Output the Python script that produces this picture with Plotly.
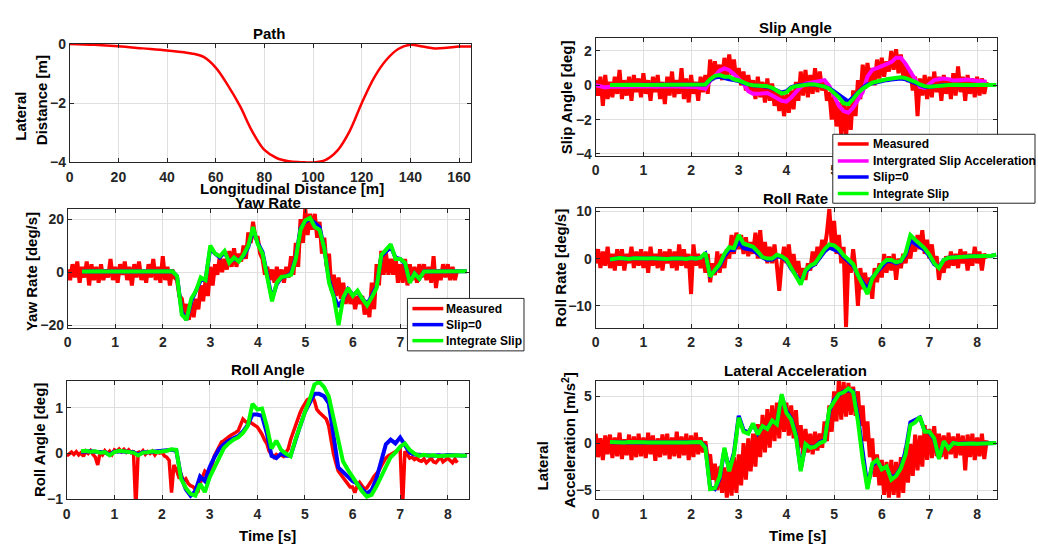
import numpy as np
import plotly.graph_objects as go

W, H = 1038, 557
FONT = "Liberation Sans, Arial, Helvetica, sans-serif"
AX = "#262626"
GRID = "#dfdfdf"
RED, MAG, BLUE, GREEN = "#ff0000", "#ff00ff", "#0000ff", "#00ff00"

# ---------------------------------------------------------------- time bases
t_meas = np.round(np.arange(0, 8.2 + 1e-9, 0.05), 2)    # measured signals, 165 samples
t_model = np.round(np.arange(0.3, 8.4 + 1e-9, 0.1), 2)  # model estimates, 82 samples
t_accel = np.round(np.arange(0, 8.2 + 1e-9, 0.1), 2)    # integrated slip acceleration, 83 samples

# ---------------------------------------------------------------- path
path_x = [0, 10, 20, 30, 40, 50, 55, 60, 65, 70, 75, 80, 85, 90, 95, 100, 105, 110,
          115, 120, 125, 130, 135, 140, 145, 150, 155, 160, 165]
path_y = [0.0, -0.03, -0.08, -0.15, -0.22, -0.32, -0.44, -0.8, -1.4, -2.1, -2.95, -3.58,
          -3.85, -3.96, -3.99, -4.0, -3.92, -3.6, -2.95, -2.0, -1.15, -0.55, -0.17, -0.03,
          -0.09, -0.15, -0.13, -0.09, -0.09]

# ---------------------------------------------------------------- slip angle [deg]
slip_meas = [
    0.3, -0.6, 0.5, -1.2, 0.6, -0.8, 0.2, -0.7, 0.5, -0.5,
    0.9, -0.8, 0.3, -0.6, 0.5, -0.9, 0.6, -0.4, 0.4, -0.7,
    0.7, -0.5, 0.3, -0.9, 0.5, -0.4, 0.6, -0.8, 0.2, -1.1,
    0.5, -0.6, 0.8, -0.7, 0.3, -0.5, 1.0, -0.8, 0.4, -1.0,
    0.6, -0.5, 0.2, -0.9, 0.5, -0.4, 0.6, -0.5, 1.5, 0.3,
    1.4, 0.4, 1.2, 0.3, 1.6, 0.5, 1.8, 0.6, 1.5, 0.2,
    1.0, 0.0, 0.8, -0.3, 0.6, -0.4, 0.3, -0.8, 0.5, -0.7,
    0.2, -1.0, 0.4, -0.9, 0.1, -1.2, -0.3, -1.5, -0.4, -1.8,
    -0.5, -1.6, -0.3, -1.4, 0.2, -0.9, 0.8, -0.6, 0.9, -0.7,
    0.6, -0.5, 1.0, -0.4, 0.8, -0.3, 0.3, -0.9, -0.4, -2.0,
    -0.6, -2.4, -1.0, -2.9, -0.8, -3.0, -1.2, -2.6, -0.3, -1.8,
    0.3, -0.8, 1.2, -0.2, 1.3, 0.2, 1.0, 0.0, 1.5, 0.4,
    1.6, 0.5, 1.4, 0.8, 2.0, 0.9, 2.1, 0.7, 1.8, 0.5,
    1.2, 0.2, 0.8, -0.3, 0.5, -1.8, 0.4, -0.6, 0.6, -0.8,
    0.5, -0.7, 0.8, -0.4, 0.5, -0.9, 0.6, -0.5, 0.4, -0.8,
    0.7, -0.6, 1.1, -0.4, 0.5, -0.9, 0.6, -0.5, 0.4, -0.7,
    0.5, -0.6, 0.4, -0.5, 0.2,
]
slip_accel = [
    0.0, -0.05, -0.12, -0.08, -0.05, -0.07, -0.08, -0.06, -0.08, -0.07,
    -0.06, -0.08, -0.07, -0.08, -0.06, -0.07, -0.08, -0.06, -0.07, -0.08,
    -0.07, -0.1, -0.15, -0.2, 0.25, 0.55, 0.85, 0.98, 0.88, 0.65,
    0.35, 0.1, -0.35, -0.5, -0.5, -0.48, -0.45, -0.6, -0.78, -0.9,
    -0.95, -0.72, -0.4, -0.1, 0.1, 0.15, 0.22, 0.3, 0.3, -0.05,
    -0.6, -1.2, -1.5, -1.6, -1.3, -0.9, -0.4, 0.5, 0.9, 1.0,
    1.1, 1.2, 1.35, 1.6, 1.6, 1.25, 0.8, 0.35, -0.1, -0.15,
    0.1, 0.3, 0.35, 0.4, 0.35, 0.28, 0.3, 0.32, 0.33, 0.3,
    0.27, 0.23, 0.2,
]
slip_zero = [
    0.02, 0.02, 0.01, 0.02, 0.02, 0.01, 0.02, 0.01, 0.02, 0.02,
    0.01, 0.02, 0.01, 0.02, 0.01, 0.01, 0.02, 0.01, 0.02, 0.01,
    0.05, 0.3, 0.45, 0.5, 0.4, 0.35, 0.3, 0.25, 0.12, 0.03,
    -0.02, -0.03, -0.05, -0.08, -0.18, -0.3, -0.42, -0.35, -0.12, -0.03,
    0.02, 0.05, 0.05, 0.03, -0.02, -0.08, -0.18, -0.35, -0.55, -0.8,
    -0.95, -0.7, -0.4, -0.15, 0.05, 0.12, 0.18, 0.25, 0.3, 0.33,
    0.38, 0.4, 0.35, 0.25, 0.12, 0.0, -0.08, -0.1, -0.05, 0.0,
    0.01, 0.01, 0.0, 0.01, 0.0, 0.01, 0.0, 0.01, 0.0, 0.01,
    0.0, 0.01,
]
slip_int = [
    0.02, 0.03, 0.02, 0.02, 0.03, 0.02, 0.03, 0.02, 0.02, 0.03,
    0.02, 0.03, 0.02, 0.03, 0.02, 0.02, 0.03, 0.02, 0.03, 0.02,
    0.05, 0.35, 0.55, 0.6, 0.5, 0.5, 0.35, 0.28, 0.15, 0.05,
    0.0, 0.0, -0.02, -0.05, -0.15, -0.32, -0.48, -0.42, -0.15, -0.05,
    0.0, 0.05, 0.06, 0.05, 0.0, -0.08, -0.2, -0.45, -0.7, -1.05,
    -1.1, -0.8, -0.45, -0.2, 0.0, 0.15, 0.22, 0.3, 0.35, 0.4,
    0.45, 0.47, 0.42, 0.32, 0.2, 0.05, -0.05, -0.08, -0.05, 0.0,
    0.02, 0.02, 0.03, 0.02, 0.02, 0.03, 0.02, 0.02, 0.03, 0.02,
    0.02, 0.02,
]

# ---------------------------------------------------------------- yaw rate [deg/s]
yaw_meas = [
    1, -3, 3, -2, 4, -4, 2, -2, 4, -5,
    3, -3, 2, -4, 3, -3, 1, -2, 5, -3,
    2, -4, 3, -1, 4, -3, 2, -5, 3, -2,
    4, -3, 1, -4, 3, -2, 5, -3, 2, -4,
    6, -3, 2, -5, 1, -2, -3, -9, -10, -16,
    -12, -18, -11, -17, -10, -14, -5, -11, -3, -9,
    2, -5, 3, -1, 6, 0, 5, 1, 8, 2,
    9, 2, 7, 4, 10, 5, 15, 11, 19, 13,
    13, 7, 5, -1, 2, -3, 1, -4, 2, -3,
    1, -4, 2, -2, 6, -1, 11, 2, 20, 11,
    24, 14, 22, 16, 22, 13, 19, 7, 13, 2,
    7, -7, -1, -9, -2, -10, -4, -12, -7, -12,
    -8, -14, -9, -12, -9, -16, -11, -17, -4, -14,
    3, -5, 8, -1, 7, -1, 5, -1, 6, -4,
    3, -4, 5, -5, 3, -3, 2, -4, 3, -2,
    3, -3, 2, -4, 6, -6, 1, -3, 3, -2,
    3, -3, 2, -3, 1,
]
yaw_zero = [
    0.2, 0.3, 0.2, 0.2, 0.3, 0.2, 0.2, 0.3, 0.2, 0.2,
    0.2, 0.3, 0.2, 0.2, 0.3, 0.2, 0.2, 0.3, 0.2, 0.3,
    -1.5, -15, -18, -11, -7, -3, -3, 9, 7, 5.5,
    7.5, 4, 5, 4.5, 6, 9.5, 16, 11, 7.5, -2,
    -10, -4.5, -2, -1.5, -0.5, 5.5, 16.5, 19, 20, 18.5,
    17, 9, -3, -9, -13, -10, -6.5, -8.5, -7.5, -10,
    -12, -9, -5.5, 6, 8, 9.5, 5.5, 5, 3, -3.5,
    -0.5, -2.5, 0.2, 0.2, 0.3, 0.2, 0.2, 0.3, 0.2, 0.2,
    0.2, 0.3,
]
yaw_int = [
    0.2, 0.3, 0.2, 0.2, 0.3, 0.2, 0.2, 0.3, 0.2, 0.2,
    0.2, 0.3, 0.2, 0.2, 0.3, 0.2, 0.2, 0.3, 0.2, 0.3,
    -1.5, -16, -18, -10, -7, -2, -3, 10, 7, 6,
    8, 3.5, 5.5, 4, 6.5, 10, 17, 10.5, 7, -3,
    -11, -4, -1.8, -1.5, -1, 5, 16, 19.5, 20.5, 17,
    16, 9, -4, -9.5, -20, -9.5, -6, -9, -7, -10,
    -12.5, -9.5, -6, 6.5, 8.5, 10.5, 5, 5, 3.5, -4,
    -0.5, -2.5, 0.2, 0.2, 0.3, 0.2, 0.2, 0.3, 0.2, 0.2,
    0.2, 0.3,
]

# ---------------------------------------------------------------- roll rate [deg/s]
rollrate_meas = [
    -1, 2, -2, 1.5, -1.5, 2.5, -2, 1, -2.5, 2,
    -1.5, 2, -2.5, 1, -1, 2.5, -2, 1.5, -1.5, 2,
    -2, 1.5, -3, 2.5, -1.5, 1, -2, 2, -2.5, 1.5,
    -1, 2, -2, 1.5, -2.5, 3, -1.5, 2, -2, 1,
    -7.5, 3, -1.5, 1, -2, 0.5, -3, 1, -5, -1,
    -3.5, 1.5, -3, 1, -2, 2, 0, 5, 1, 5.5,
    2, 5, 1, 4.5, 0.5, 3.5, 1, 5.5, 0, 6,
    0, 3.5, -1, 2.5, -1, 3, -1.5, -6.8, -1, 2.5,
    -1, 3, -2, 1, -3, -0.5, -5, -2, -4.5, -1,
    -2.5, 1.5, -1.5, 2.5, 0, 4, 2, 5.5, 10.5, 3,
    8, 1, 5, -1, 2.5, -14.5, 0, -3, 2, -2.5,
    -10, -2, -6.5, -3, -7, -4, -8.5, -2, -5, -1,
    -4, 1, -3, 0.5, -2.5, 1, -4.5, 0, -2, 1,
    -1, 2.5, 0, 4, 1.5, 5, 2, 6, 1, 4,
    0, 3, -1, 0.5, -4.5, -1, -3, 0.5, -2, 1.5,
    -1.5, 1, -2, 2, -1, 1.5, -2.5, 1, -1.5, 2.5,
    -1, 1.5, -2.5, 1, 0,
]
rollrate_zero = [
    -0.2, 0.0, 0.1, 0.0, -0.1, 0.1, 0.0, -0.1, 0.0, 0.1,
    0.0, -0.2, -0.1, 0.0, 0.1, 0.0, -0.1, 0.1, 0.0, 0.2,
    1.0, -3.5, -2.6, -1.5, 0.5, 1.8, 1.8, 3.5, 2.2, 2.0,
    1.8, 1.0, 0.2, -0.3, -0.2, 0.5, 0.3, -0.4, -2.2, -3.5,
    -5.0, -2.8, -1.8, -1.2, 0.2, 1.5, 2.3, 2.0, 1.5, 0.3,
    -0.5, -1.5, -3.5, -5.0, -6.5, -4.0, -2.8, -1.5, -0.6, -0.5,
    -1.0, -0.6, 0.8, 3.8, 3.2, 2.6, 1.8, 0.5, -1.2, -1.8,
    -0.3, 0.2, 0.3, 0.3, 0.4, 0.4, 0.5, 0.5, 0.5, 0.6,
    0.6, 0.8,
]
rollrate_int = [
    -0.2, 0.0, 0.1, 0.0, -0.1, 0.1, 0.0, -0.1, 0.0, 0.1,
    0.0, -0.2, -0.1, 0.0, 0.1, 0.0, -0.1, 0.1, 0.0, 0.2,
    1.2, -3.8, -2.4, -1.2, 1.0, 2.4, 2.2, 5.0, 3.2, 2.8,
    2.5, 1.5, 0.3, 0.0, 0.0, 0.8, 0.5, -0.2, -2.0, -3.8,
    -5.5, -2.5, -1.5, -1.0, 0.5, 2.0, 3.0, 2.8, 2.0, 0.7,
    -0.2, -1.2, -3.5, -5.5, -7.5, -4.2, -2.6, -1.2, -0.3, -0.3,
    -0.8, -0.5, 1.2, 5.0, 4.0, 3.2, 2.2, 0.8, -1.0, -2.0,
    -0.3, 0.2, 0.3, 0.3, 0.4, 0.4, 0.5, 0.5, 0.5, 0.6,
    0.6, 0.8,
]

# ---------------------------------------------------------------- roll angle [deg]
roll_meas = [
    -0.05, 0.0, 0.03, -0.02, 0.04, -0.03, 0.02, -0.06, 0.05, 0.0,
    0.06, -0.02, -0.08, -0.25, 0.02, -0.03, 0.06, 0.0, 0.05, -0.02,
    0.08, 0.05, 0.1, 0.04, 0.09, 0.03, 0.08, 0.02, 0.06, -1.2,
    0.05, 0.0, 0.06, -0.02, 0.04, 0.0, 0.05, -0.03, 0.04, 0.01,
    0.03, -0.05, -0.08, -0.15, -0.85, -0.25, -0.35, -0.5, -0.45, -0.6,
    -0.55, -0.65, -0.7, -0.72, -0.8, -0.85, -0.65, -0.5, -0.38, -0.42,
    -0.45, -0.25, -0.05, 0.05, 0.15, 0.25, 0.28, 0.33, 0.36, 0.4,
    0.42, 0.46, 0.5, 0.62, 0.75, 0.7, 0.66, 0.68, 0.65, 0.6,
    0.58, 0.5, 0.42, 0.3, 0.22, 0.05, -0.03, -0.08, -0.02, -0.05,
    -0.03, -0.06, 0.02, 0.1, 0.3, 0.46, 0.6, 0.75, 0.89, 1.0,
    1.1, 1.17, 1.2, 1.24, 1.15, 0.96, 0.9, 0.85, 0.8, 0.75,
    0.6, 0.25, 0.0, -0.2, -0.38, -0.45, -0.52, -0.6, -0.68, -0.73,
    -0.73, -0.85, -0.7, -0.63, -0.7, -0.77, -0.75, -0.68, -0.59, -0.5,
    -0.45, -0.38, -0.28, -0.18, -0.1, -0.05, -0.02, 0.03, 0.05, 0.08,
    0.1, -1.2, 0.05, -0.02, -0.1, -0.08, -0.13, -0.1, -0.15, -0.17,
    -0.12, -0.2, -0.15, -0.1, -0.18, -0.2, -0.14, -0.08, -0.18, -0.13,
    -0.1, -0.15, -0.2, -0.12, -0.2,
]
roll_zero = [
    0.04, 0.05, 0.05, 0.04, 0.03, 0.03, -0.02, 0.04, 0.05, 0.05,
    0.03, 0.03, -0.02, 0.03, 0.03, 0.04, 0.04, 0.04, 0.05, 0.08,
    0.06, -0.5, -0.78, -0.92, -0.82, -0.5, -0.6, -0.3, -0.08, 0.1,
    0.2, 0.28, 0.33, 0.38, 0.48, 0.62, 0.85, 0.85, 0.82, 0.45,
    -0.05, -0.1, 0.0, -0.05, -0.05, 0.3, 0.6, 0.9, 1.1, 1.3,
    1.3, 1.25, 1.1, 0.35, -0.3, -0.4, -0.5, -0.6, -0.65, -0.78,
    -0.87, -0.8, -0.55, -0.15, 0.2, 0.3, 0.22, 0.35, 0.2, 0.02,
    -0.02, -0.03, -0.04, -0.03, -0.05, -0.04, -0.05, -0.03, -0.04, -0.05,
    -0.04, -0.05,
]
roll_int = [
    0.05, 0.06, 0.04, 0.05, 0.02, 0.03, -0.04, 0.03, 0.06, 0.05,
    0.04, 0.02, -0.04, 0.02, 0.03, 0.05, 0.03, 0.04, 0.06, 0.09,
    0.08, -0.55, -0.75, -0.88, -0.92, -0.66, -0.84, -0.52, -0.3, -0.1,
    0.12, 0.22, 0.3, 0.35, 0.45, 0.6, 1.08, 0.96, 0.98, 0.6,
    0.11, 0.28, 0.08, 0.0, -0.06, 0.3, 0.62, 0.9, 1.17, 1.5,
    1.56, 1.45, 1.25, 0.8, 0.3, -0.17, -0.35, -0.52, -0.65, -0.82,
    -0.94, -0.9, -0.72, -0.5, -0.27, -0.08, 0.02, 0.15, 0.22, 0.08,
    0.0, -0.05, -0.03, -0.05, -0.04, -0.06, -0.05, -0.04, -0.05, -0.04,
    -0.05, -0.04,
]

# ---------------------------------------------------------------- lateral acceleration [m/s^2]
latacc_meas = [
    1.0, -1.5, 0.5, -1.8, 0.8, -1.2, 0.9, -1.6, 0.6, -1.4,
    1.1, -1.7, 0.4, -1.3, 0.9, -1.8, 0.7, -1.5, 1.0, -1.4,
    0.6, -1.6, 1.1, -1.2, 0.8, -1.9, 0.5, -1.5, 0.9, -1.3,
    1.0, -1.7, 0.6, -1.4, 1.2, -1.6, 0.7, -1.3, 1.0, -1.8,
    0.8, -1.5, 1.1, -1.2, 0.6, -1.0, 0.2, -1.8, -1.2, -3.9,
    -2.2, -5.0, -2.5, -5.3, -2.6, -5.8, -2.5, -5.6, -1.5, -5.3,
    -1.2, -4.5, 0.0, -3.9, 0.5, -3.0, 1.0, -2.5, 2.0, -1.5,
    3.0, -1.0, 3.6, -0.5, 4.0, 0.2, 4.3, 0.5, 5.0, 1.2,
    4.3, 0.8, 4.0, 0.5, 3.5, -0.5, 1.9, -1.2, 1.5, -1.0,
    1.0, -1.2, 1.2, -0.8, 1.0, -0.5, 2.3, 0.2, 4.0, 1.2,
    5.5, 2.3, 6.7, 2.5, 6.5, 2.8, 6.4, 3.0, 6.0, 2.9,
    5.5, 1.8, 4.0, 0.2, 2.3, -1.5, 0.5, -3.6, -1.2, -4.5,
    -1.8, -5.5, -2.0, -5.8, -1.8, -5.5, -2.0, -5.8, -1.5, -5.3,
    -0.5, -4.2, -0.1, -3.5, 0.9, -2.9, 0.8, -2.5, 1.9, -1.8,
    1.5, -1.6, 1.8, -1.4, 1.0, -1.5, 0.8, -1.7, 1.1, -1.2,
    0.7, -1.6, 1.0, -1.3, 0.8, -2.9, 0.9, -1.5, 1.0, -1.8,
    0.6, -1.4, 1.0, -1.7, 0.3,
]
latacc_zero = [
    0.08, 0.06, 0.07, 0.06, 0.08, 0.05, 0.06, 0.07, 0.05, 0.06,
    0.07, 0.06, 0.05, 0.07, 0.06, 0.05, 0.07, 0.06, 0.08, 0.1,
    -0.4, -4.7, -4.9, -3.8, -0.7, -2.8, -1.0, 2.9, 1.4, 1.1,
    2.0, 1.0, 1.7, 1.6, 2.3, 2.1, 5.0, 3.4, 2.6, 0.9,
    -2.8, -0.2, -0.4, -0.4, 0.1, 0.3, 3.4, 4.6, 5.1, 5.5,
    5.6, 5.5, 2.8, -1.2, -4.6, -2.4, -1.9, -2.7, -2.6, -3.7,
    -3.4, -2.6, -0.8, 2.2, 2.4, 2.7, 1.3, 1.1, 0.4, -1.6,
    0.1, -0.5, 0.0, -0.1, -0.05, -0.08, -0.06, -0.08, -0.05, -0.04,
    0.0, 0.0,
]
latacc_int = [
    0.1, 0.05, 0.08, 0.05, 0.1, 0.06, 0.05, 0.08, 0.06, 0.05,
    0.08, 0.05, 0.07, 0.05, 0.08, 0.06, 0.05, 0.08, 0.1, 0.1,
    -0.5, -4.9, -4.8, -3.6, -0.5, -3.0, -1.2, 2.7, 1.2, 1.0,
    2.1, 0.9, 1.8, 1.5, 2.4, 2.0, 5.2, 3.2, 2.5, 0.7,
    -3.0, -0.1, -0.5, -0.4, 0.0, 0.2, 3.6, 4.5, 5.2, 5.4,
    5.8, 5.4, 2.3, -1.8, -4.9, -2.2, -1.8, -2.8, -2.5, -3.9,
    -3.5, -2.7, -1.2, 1.9, 2.2, 2.8, 1.2, 1.2, 0.5, -1.7,
    0.2, -0.6, 0.0, -0.1, -0.05, -0.1, -0.05, -0.08, -0.05, -0.05,
    0.0, 0.0,
]

for name, arr, ref in [
    ("slip_meas", slip_meas, t_meas), ("yaw_meas", yaw_meas, t_meas),
    ("rollrate_meas", rollrate_meas, t_meas), ("roll_meas", roll_meas, t_meas),
    ("latacc_meas", latacc_meas, t_meas), ("slip_accel", slip_accel, t_accel),
    ("slip_zero", slip_zero, t_model), ("slip_int", slip_int, t_model),
    ("yaw_zero", yaw_zero, t_model), ("yaw_int", yaw_int, t_model),
    ("rollrate_zero", rollrate_zero, t_model), ("rollrate_int", rollrate_int, t_model),
    ("roll_zero", roll_zero, t_model), ("roll_int", roll_int, t_model),
    ("latacc_zero", latacc_zero, t_model), ("latacc_int", latacc_int, t_model),
]:
    assert len(arr) == len(ref), (name, len(arr), len(ref))

# legend entries of the two boxed legends
slip_legend = [("Measured", RED), ("Intergrated Slip Acceleration", MAG),
               ("Slip=0", BLUE), ("Integrate Slip", GREEN)]
yaw_legend = [("Measured", RED), ("Slip=0", BLUE), ("Integrate Slip", GREEN)]

# ---------------------------------------------------------------- layout of the six axes (pixels)
time_ticks = list(range(0, 9))
panels = {
    1: dict(px=(66, 469), py=(37, 159), xr=[0, 165], yr=[-4, 0],
            xt=list(range(0, 161, 20)), yt=[-4, -2, 0]),
    2: dict(px=(594, 997), py=(31, 152), xr=[0, 8.42], yr=[-4.1, 2.75],
            xt=time_ticks, yt=[-4, -2, 0, 2]),
    3: dict(px=(64, 467), py=(207, 329), xr=[0, 8.45], yr=[-20.9, 23.8],
            xt=time_ticks, yt=[-20, 0, 20]),
    4: dict(px=(594, 997), py=(206, 329), xr=[0, 8.42], yr=[-14.6, 10.7],
            xt=time_ticks, yt=[-10, 0, 10]),
    5: dict(px=(63, 467), py=(384, 506), xr=[0, 8.45], yr=[-1.0, 1.58],
            xt=time_ticks, yt=[-1, 0, 1]),
    6: dict(px=(594, 997), py=(384, 506), xr=[0, 8.42], yr=[-6.0, 6.6],
            xt=time_ticks, yt=[-5, 0, 5]),
}

NOISY_W, MEAS_W, MODEL_W = 4, 3.5, 4

fig = go.Figure()


def add_line(i, x, y, color, width, name):
    s = "" if i == 1 else str(i)
    fig.add_trace(go.Scatter(
        x=x, y=y, xaxis="x" + s, yaxis="y" + s, mode="lines",
        line=dict(color=color, width=width), name=name,
        showlegend=False, hoverinfo="skip",
    ))


# Path
add_line(1, path_x, path_y, RED, 2.5, "Path")
fig.data[-1].line.shape = "spline"

# Slip angle
add_line(2, t_meas, slip_meas, RED, NOISY_W, "Measured")
add_line(2, t_accel, slip_accel, MAG, MODEL_W, "Intergrated Slip Acceleration")
add_line(2, t_model, slip_zero, BLUE, MODEL_W, "Slip=0")
add_line(2, t_model, slip_int, GREEN, MODEL_W, "Integrate Slip")

# Yaw rate
add_line(3, t_meas, yaw_meas, RED, NOISY_W, "Measured")
add_line(3, t_model, yaw_zero, BLUE, MODEL_W, "Slip=0")
add_line(3, t_model, yaw_int, GREEN, MODEL_W, "Integrate Slip")

# Roll rate
add_line(4, t_meas, rollrate_meas, RED, NOISY_W, "Measured")
add_line(4, t_model, rollrate_zero, BLUE, MODEL_W, "Slip=0")
add_line(4, t_model, rollrate_int, GREEN, MODEL_W, "Integrate Slip")

# Roll angle
add_line(5, t_meas, roll_meas, RED, MEAS_W, "Measured")
add_line(5, t_model, roll_zero, BLUE, MODEL_W, "Slip=0")
add_line(5, t_model, roll_int, GREEN, MODEL_W, "Integrate Slip")

# Lateral acceleration
add_line(6, t_meas, latacc_meas, RED, NOISY_W, "Measured")
add_line(6, t_model, latacc_zero, BLUE, MODEL_W, "Slip=0")
add_line(6, t_model, latacc_int, GREEN, MODEL_W, "Integrate Slip")

tick_font = dict(family=FONT, size=14, color=AX, weight="bold")
layout = {}
for i, p in panels.items():
    s = "" if i == 1 else str(i)
    common = dict(showline=True, linecolor=AX, linewidth=1, mirror="ticks",
                  ticks="inside", ticklen=4, tickwidth=1, tickcolor=AX,
                  showgrid=True, gridcolor=GRID, gridwidth=1, zeroline=False,
                  tickfont=tick_font, fixedrange=True)
    layout["xaxis" + s] = dict(domain=[p["px"][0] / W, p["px"][1] / W], anchor="y" + s,
                               range=p["xr"], tickvals=p["xt"], ticklabelstandoff=2, **common)
    layout["yaxis" + s] = dict(domain=[1 - p["py"][1] / H, 1 - p["py"][0] / H], anchor="x" + s,
                               range=p["yr"], tickvals=p["yt"], **common)


def px_x(x):
    return x / W


def px_y(y):
    return 1 - y / H


def text(t, x, y, size=15, angle=0, anchor="center"):
    return dict(text=t, x=px_x(x), y=px_y(y), xref="paper", yref="paper", showarrow=False,
                xanchor=anchor, yanchor="middle", textangle=angle,
                font=dict(family=FONT, size=size, color="black", weight="bold"))


annotations = [
    # titles
    text("Path", 267, 26),
    text("Slip Angle", 795, 20),
    text("Yaw Rate", 265, 200.5),
    text("Roll Rate", 795, 196),
    text("Roll Angle", 265, 372),
    text("Lateral Acceleration", 795, 373),
    # x labels
    text("Longitudinal Distance [m]", 289, 185.5),
    text("Time [s]", 265, 543),
    text("Time [s]", 797, 543),
    # y labels
    text("Lateral", 17, 111, angle=-90),
    text("Distance [m]", 37, 95, angle=-90),
    text("Slip Angle [deg]", 565, 92, angle=-90),
    text("Yaw Rate [deg/s]", 27, 271, angle=-90),
    text("Roll Rate [deg/s]", 558, 268, angle=-90),
    text("Roll Angle [deg]", 35, 445, angle=-90),
    text("Lateral", 541, 471, angle=-90),
    text("Acceleration [m/s<sup>2</sup>]", 566, 445, angle=-90),
]

shapes = []


def boxed_legend(entries, box, rows_y, line_x, text_x):
    x0, y0, x1, y1 = box
    shapes.append(dict(type="rect", xref="paper", yref="paper", layer="above",
                       x0=px_x(x0), x1=px_x(x1), y0=px_y(y1), y1=px_y(y0),
                       fillcolor="white", line=dict(color=AX, width=1)))
    for (label, color), ry in zip(entries, rows_y):
        shapes.append(dict(type="line", xref="paper", yref="paper", layer="above",
                           x0=px_x(line_x[0]), x1=px_x(line_x[1]), y0=px_y(ry), y1=px_y(ry),
                           line=dict(color=color, width=3.5)))
        annotations.append(text(label, text_x, ry, size=12, anchor="left"))


boxed_legend(slip_legend, (832, 130, 1035, 201), [140, 157.5, 174, 191], (837, 868), 870)
boxed_legend(yaw_legend, (405, 299, 522, 353), [309.5, 326, 342.5], (410, 441), 442)

fig.update_layout(
    width=W, height=H,
    margin=dict(l=0, r=0, t=0, b=0),
    paper_bgcolor="white", plot_bgcolor="white",
    showlegend=False,
    annotations=annotations,
    shapes=shapes,
    **layout,
)

fig.write_html("out.html")
